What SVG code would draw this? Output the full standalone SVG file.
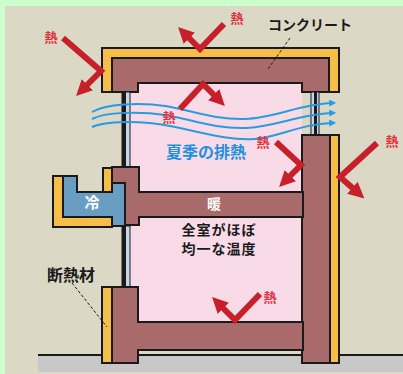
<svg xmlns="http://www.w3.org/2000/svg" width="403" height="374" viewBox="0 0 403 374">
  <style>
    .ol { stroke: #1a1a1a; stroke-width: 2; stroke-linejoin: miter; }
    .brick { fill: #a96a6b; }
    .ins { fill: #f5be48; }
    .cool { fill: #6a9dc2; }
    .glass { fill: #c6d6e6; stroke: #1a1a1a; stroke-width: 1; }
    .heat { fill: none; stroke: #c8202b; stroke-width: 6; stroke-linejoin: miter; marker-end: url(#ah); }
    .air { fill: none; stroke: #2a9be0; stroke-width: 2; marker-end: url(#sa); }
    .lbl { font-family: "Noto Sans CJK JP", sans-serif; font-weight: bold; }
    .hot { fill: #e0303c; font-size: 13px; text-anchor: middle; }
    .lead { fill: none; stroke: #1a1a1a; stroke-width: 1; stroke-dasharray: 3 2; }
  </style>
  <defs>
    <marker id="ah" viewBox="0 0 10 10" refX="3" refY="5" markerWidth="16" markerHeight="16" markerUnits="userSpaceOnUse" orient="auto">
      <path d="M0,0 L10,5 L0,10 z" fill="#c8202b"/>
    </marker>
    <marker id="sa" viewBox="0 0 10 10" refX="4" refY="5" markerWidth="7" markerHeight="7" markerUnits="userSpaceOnUse" orient="auto">
      <path d="M0,0 L10,5 L0,10 z" fill="#2a9be0"/>
    </marker>
  </defs>

  <!-- frame and backdrop -->
  <rect x="0" y="0" width="403" height="374" fill="#ccffcc"/>
  <rect x="5" y="6" width="398" height="368" fill="#dcd8c6"/>

  <!-- ground -->
  <g id="ground">
    <rect x="38" y="356" width="365" height="16" fill="#c8c8c8"/>
    <line x1="38" y1="355" x2="403" y2="355" stroke="#1a1a1a" stroke-width="2"/>
  </g>

  <!-- room interior -->
  <rect id="interior" x="129" y="83" width="173" height="239" fill="#f9dbe8"/>

  <!-- roof slab with outer insulation -->
  <g id="roof">
    <path class="ins ol" d="M102,48 H339 V92 H329 V58 H112 V92 H102 Z"/>
    <path class="brick ol" d="M112,58 H329 V92 H302 V83 H138 V92 H112 Z"/>
  </g>

  <!-- windows -->
  <g id="window-left">
    <rect class="glass" x="122" y="92" width="8" height="76"/>
    <rect x="122" y="92" width="4" height="76" fill="#1a1a1a"/>
    <rect class="glass" x="122" y="226" width="8" height="61"/>
    <rect x="122" y="226" width="4" height="61" fill="#1a1a1a"/>
  </g>
  <g id="window-right">
    <rect class="glass" x="311" y="92" width="8" height="43"/>
    <rect x="314" y="92" width="3" height="43" fill="#1a1a1a"/>
  </g>

  <!-- right wall -->
  <g id="wall-right">
    <rect class="brick ol" x="302" y="135" width="28" height="228"/>
    <rect class="ins ol" x="330" y="135" width="9" height="228"/>
  </g>

  <!-- floor slabs -->
  <g id="floor-mid">
    <path class="brick ol" d="M112,167 H139 V192 H303 V217 H139 V225 H125 V183 H112 Z"/>
  </g>
  <g id="cold-unit">
    <path class="ins ol" d="M53,176 H63 V217 H112 V227 H53 Z"/>
    <path class="cool ol" d="M63,176 H77 V192 H112 V183 H125 V226 H112 V217 H63 Z"/>
    <rect class="ins ol" x="103" y="168" width="9" height="24"/>
    <text class="lbl" x="92" y="208" font-size="15" fill="#ffffff" text-anchor="middle">冷</text>
  </g>
  <g id="floor-ground">
    <path class="brick ol" d="M112,287 H138 V322 H303 V350 H138 V363 H112 Z"/>
    <rect class="ins ol" x="102" y="287" width="10" height="76"/>
  </g>
  <text class="lbl" x="214" y="209" font-size="14" fill="#ffffff" text-anchor="middle">暖</text>

  <!-- airflow through the upper room -->
  <g id="airflow">
    <path class="air" d="M92,112 C105,104 140,102 165,106 S215,120 245,119 S300,104 332,103"/>
    <path class="air" d="M92,119 C105,112 140,111 165,115 S215,129 245,128 S300,114 332,113"/>
    <path class="air" d="M92,127 C105,121 140,120 170,126 S230,141 255,139 S300,124 332,123"/>
  </g>

  <!-- heat arrows -->
  <g id="connectors">
    <polyline class="heat" points="63,38 101,71 84,88"/>
    <polyline class="heat" points="224,24 200,49 186,35"/>
    <polyline class="heat" points="180,109 203,84 217,98"/>
    <polyline class="heat" points="276,142 301,165 287,179"/>
    <polyline class="heat" points="377,143 340,177 356,191"/>
    <polyline class="heat" points="260,294 235,320 220,305"/>
    <path class="lead" d="M290,38 L268,69"/>
    <path class="lead" d="M72,283 L107,327"/>
  </g>

  <!-- labels -->
  <g id="labels">
    <text class="lbl hot" x="51" y="42">熱</text>
    <text class="lbl hot" x="237" y="23">熱</text>
    <text class="lbl hot" x="169" y="122">熱</text>
    <text class="lbl hot" x="263" y="147">熱</text>
    <text class="lbl hot" x="392" y="146">熱</text>
    <text class="lbl hot" x="270" y="302">熱</text>
    <text class="lbl" x="310" y="30" font-size="14" fill="#1a1a1a" text-anchor="middle">コンクリート</text>
    <text class="lbl" x="206" y="158" font-size="16" fill="#1f8fe0" text-anchor="middle">夏季の排熱</text>
    <text class="lbl" x="219" y="235" font-size="14" fill="#1a1a1a" text-anchor="middle" letter-spacing="1">全室がほぼ</text>
    <text class="lbl" x="219" y="254" font-size="14" fill="#1a1a1a" text-anchor="middle" letter-spacing="1">均一な温度</text>
    <text class="lbl" x="71" y="281" font-size="16" fill="#1a1a1a" text-anchor="middle">断熱材</text>
  </g>
</svg>
